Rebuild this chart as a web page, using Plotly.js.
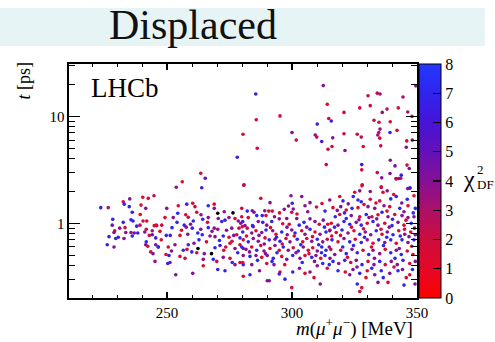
<!DOCTYPE html>
<html>
<head>
<meta charset="utf-8">
<script src="https://cdn.plot.ly/plotly-3.0.1.min.js"></script>
<style>html,body{margin:0;padding:0;background:#fff;}#plot{width:495px;height:342px;}</style>
</head>
<body>
<div id="plot"></div>
<script>
// dimuon mass [MeV]
const mass = [
223.5,226.5,232.5,235.1,232.9,234.9,240.3,242.5,244.8,239.6,241.5,236.1,239.3,228.3,228.1,232.5,235.6,236.4,240.4,241.9,
239.2,237.9,233.2,231.1,244.9,245.9,241.7,244.1,229.1,228.8,233.5,235.6,236.9,238.3,241.1,242.9,244.1,226.8,229.5,230.5,
232.8,236.1,245.5,241.7,241.5,242.3,246.5,226.1,228.8,243.5,244.4,245.2,
263.5,256.1,265.3,253.7,263.9,
249.9,254.5,257.9,260.3,261.2,266.5,268.9,268.9,272.9,279.9,249.2,252.5,254.3,257.5,258.5,260.5,261.9,263.6,264.3,266.5,
270.5,271.9,273.2,274.8,277.2,278.5,280.3,245.7,247.9,256.9,257.7,260.1,263.5,266.5,268.9,270.3,275.9,278.8,280.1,249.7,
251.3,255.2,258.3,262.3,264.1,267.2,269.2,272.5,274.8,276.7,279.2,277.9,245.5,246.5,250.5,253.2,258.5,260.8,258.0,256.5,
259.9,261.9,264.9,269.2,271.2,272.7,273.5,275.2,277.2,279.2,278.3,280.5,250.8,249.6,255.2,257.2,251.2,250.3,264.5,268.5,
269.9,272.5,275.2,276.1,277.2,279.2,280.5,270.3,273.2,264.5,253.5,260.3,
280.8,287.5,291.2,299.6,303.9,282.1,284.1,284.8,289.1,290.7,292.1,288.1,289.6,296.9,300.1,299.9,300.5,305.2,307.2,312.0,
313.2,279.9,282.5,279.5,281.2,284.5,286.5,288.3,289.9,291.9,294.9,296.3,297.9,298.9,301.9,302.9,304.8,307.2,309.2,310.9,
312.5,314.3,280.3,282.1,283.9,285.6,287.9,289.6,292.3,293.6,295.9,298.1,299.9,301.2,303.9,305.2,307.2,309.2,311.2,313.6,
315.2,280.5,282.5,284.5,286.5,289.2,290.9,293.2,295.2,297.6,299.2,302.1,304.3,305.9,307.9,310.1,312.3,314.1,279.9,281.6,
283.9,285.9,287.5,288.8,291.2,293.2,294.9,296.5,298.5,300.5,302.5,304.5,306.5,308.3,310.1,311.9,313.6,314.9,280.5,283.2,
285.6,287.9,290.1,292.5,295.9,297.9,300.3,303.2,305.2,307.9,309.6,311.5,313.2,315.2,280.3,283.9,289.9,292.8,295.2,294.9,
300.3,305.2,307.2,310.1,312.3,314.1,314.9,283.2,290.9,290.1,299.9,280.5,
328.1,341.7,343.5,347.1,325.1,327.1,331.3,335.7,336.4,338.1,319.1,320.4,326.4,327.7,331.3,335.1,339.5,341.7,346.1,348.8,
315.1,316.4,319.5,321.7,324.0,326.4,330.4,333.1,336.8,339.1,343.1,346.4,349.3,317.3,319.1,321.7,323.7,327.1,329.7,332.0,
334.4,336.0,338.4,341.1,344.0,346.4,348.8,315.7,318.4,320.8,323.1,325.7,327.7,330.1,332.4,334.4,337.1,340.0,342.4,344.8,
347.7,315.1,317.7,320.0,322.4,324.8,327.1,329.3,331.5,333.7,336.0,338.1,340.4,342.7,345.1,347.5,349.3,316.0,318.4,320.8,
323.1,325.3,327.7,330.1,332.4,334.7,337.1,339.5,341.7,344.0,346.4,348.8,315.5,317.1,319.5,321.7,324.0,326.1,328.4,330.7,
332.4,335.1,337.3,339.5,341.7,343.7,346.1,348.4,316.4,318.7,321.1,323.5,325.7,328.0,330.4,332.8,335.1,337.3,339.7,342.1,
344.4,347.1,349.3,318.4,321.3,324.4,327.1,330.1,333.1,335.7,339.1,342.4,347.1,323.1,326.1,334.4,338.4,345.7,327.1,
312.5,285.5,334.1,335.2,330.4,344.4,314.1,331.3,327.1,338.0,342.5,320.8,336.1,346.3,348.0,295.2,314.7,315.7,285.7,332.8,
334.8,339.3,310.1,335.2,342.0,339.2,280.4,300.0,309.3,309.9,320.8,326.1,327.7,334.3,334.7,335.1,348.1,345.9,301.7,311.9,
316.3,286.1,314.4,316.0,321.2,328.5,335.5,345.7,278.1,339.3,341.2,346.0,346.9,313.7,327.9,327.9,334.1,335.9,339.2,341.6,
342.7,343.7,280.7,328.0,335.7,347.2,346.3,349.5,327.9,344.8,349.2,
321.0,323.8,326.8,329.0,331.8,333.9,336.6,338.9,341.2,343.3,345.6,347.9,349.0,322.2,324.6,328.6,330.8,333.0,335.6,337.9,
340.2,342.9,345.0,346.8,319.4,317.0,320.3,326.0,329.6,331.9,336.5,340.8,344.2,348.2,338.0,344.8,333.6,322.5,318.1,328.8,
343.9,348.5,340.7,324.5,
281.8,284.2,286.8,288.9,291.4,293.8,296.1,298.0,300.9,303.5,305.9,308.2,310.7,313.0,315.9,283.0,286.2,289.4,292.0,294.0,
297.1,301.6,304.1,306.8,309.0,311.8,295.0,298.6,302.0,306.3,309.8,285.9,293.0,287.0,303.0,308.8,297.2,311.3,
247.2,252.0,255.8,259.4,262.8,265.8,268.0,271.0,273.8,276.0,254.0,247.7,251.8,266.2,276.4,270.3,262.4,267.8
];
// decay time [ps]
const time = [
1.40,1.40,1.59,1.69,1.51,1.43,1.75,1.71,1.81,1.48,1.38,1.27,1.21,1.09,0.96,1.02,1.08,1.05,1.05,1.05,
0.96,0.94,0.91,0.90,0.95,0.95,0.88,0.85,0.85,0.82,0.82,0.82,0.81,0.81,0.83,0.77,0.78,0.75,0.72,0.74,
0.72,0.76,0.73,0.67,0.63,0.61,0.60,0.63,0.60,0.54,0.52,0.44,
2.94,2.45,2.64,2.17,2.15,
1.38,1.46,1.51,1.54,1.43,1.46,1.51,1.38,1.28,1.38,1.13,1.13,1.24,1.20,1.14,1.05,1.27,1.20,1.09,1.13,
1.11,1.04,1.07,1.13,1.11,1.05,1.04,0.96,0.96,0.96,0.92,0.90,0.88,0.91,0.90,0.88,0.90,0.90,0.93,0.77,
0.77,0.77,0.79,0.81,0.78,0.76,0.75,0.76,0.74,0.77,0.73,0.78,0.63,0.60,0.60,0.63,0.63,0.65,0.57,0.56,
0.54,0.53,0.52,0.59,0.62,0.56,0.60,0.65,0.58,0.63,0.53,0.58,0.50,0.51,0.49,0.47,0.43,0.42,0.46,0.46,
0.44,0.48,0.47,0.43,0.41,0.43,0.41,0.37,0.36,0.40,0.33,0.34,
2.29,1.71,1.56,1.81,1.78,1.30,1.31,1.27,1.31,1.30,1.30,1.18,1.18,1.35,1.54,1.27,1.36,1.46,1.56,1.53,
1.30,1.15,1.13,1.00,0.95,0.93,1.04,1.02,0.96,1.04,1.10,0.99,1.11,0.98,1.11,0.96,1.02,1.10,1.04,0.98,
1.07,0.98,0.83,0.90,0.81,0.85,0.82,0.865,0.85,0.79,0.83,0.78,0.865,0.81,0.85,0.79,0.88,0.83,0.79,0.83,
0.865,0.70,0.67,0.72,0.68,0.73,0.70,0.71,0.68,0.72,0.67,0.71,0.67,0.72,0.68,0.71,0.67,0.71,0.60,0.57,
0.60,0.56,0.62,0.55,0.58,0.62,0.56,0.60,0.56,0.59,0.55,0.60,0.56,0.59,0.55,0.60,0.56,0.60,0.50,0.49,
0.50,0.48,0.50,0.47,0.49,0.46,0.50,0.47,0.50,0.48,0.50,0.47,0.50,0.47,0.43,0.41,0.42,0.41,0.35,0.335,
0.35,0.34,0.35,0.40,0.42,0.38,0.41,0.33,0.29,0.29,0.25,0.32,
2.29,2.60,2.64,2.13,1.95,2.01,1.98,2.16,1.95,2.01,1.78,1.62,1.65,1.59,1.68,1.62,1.69,1.78,1.68,1.81,
1.65,1.40,1.43,1.33,1.38,1.40,1.43,1.38,1.46,1.43,1.38,1.46,1.38,1.15,1.21,1.11,1.18,1.15,1.21,1.15,
1.20,1.27,1.15,1.21,1.18,1.13,1.15,1.00,0.96,1.04,0.98,1.02,0.96,1.00,1.04,0.96,1.00,0.95,1.02,0.96,
1.00,0.85,0.82,0.865,0.81,0.85,0.79,0.83,0.78,0.85,0.79,0.83,0.78,0.85,0.79,0.83,0.78,0.70,0.67,0.72,
0.67,0.71,0.66,0.70,0.65,0.70,0.66,0.70,0.65,0.70,0.66,0.70,0.57,0.51,0.56,0.52,0.57,0.53,0.56,0.51,
0.56,0.52,0.57,0.53,0.56,0.51,0.55,0.51,0.44,0.42,0.45,0.43,0.45,0.41,0.44,0.41,0.44,0.41,0.44,0.41,
0.45,0.42,0.44,0.36,0.35,0.37,0.34,0.36,0.33,0.36,0.34,0.36,0.33,0.33,0.27,0.28,0.28,0.31,0.23,
19.4,16.2,16.5,16.2,15.6,15.2,13.0,12.6,12.0,11.7,12.0,10.9,10.9,11.0,10.0,10.1,9.55,9.04,9.3,9.2,
8.8,8.9,8.47,7.6,7.4,7.07,6.8,7.07,6.7,6.4,6.87,6.8,6.4,6.7,7.07,6.26,6.0,5.9,6.0,5.82,
6.3,5.04,4.93,5.22,4.79,5.22,5.3,5.15,4.15,3.89,3.44,3.5,3.25,3.54,3.54,3.16,2.98,2.66,2.92,2.62,
2.62,2.82,2.27,2.25,2.19,2.15,2.11,19.3,0.25,0.264,0.27,
1.25,0.92,1.08,0.74,0.60,1.10,0.62,0.92,0.47,0.76,1.07,0.61,0.90,0.48,0.62,0.89,1.13,0.47,0.88,0.74,
1.09,0.58,0.88,0.75,0.77,0.92,0.60,0.39,0.31,0.38,0.31,0.39,0.37,0.37,1.30,1.28,1.55,1.52,1.32,1.50,
1.55,1.25,1.86,1.78,
0.76,0.95,0.77,0.64,0.91,0.74,0.64,0.92,0.76,0.63,0.92,0.75,0.63,0.92,0.76,0.54,0.45,0.52,0.44,0.53,
0.41,0.53,0.43,0.52,0.44,0.53,1.25,1.45,1.22,1.28,1.42,1.18,1.15,0.36,0.38,0.31,0.30,0.27,
0.84,0.91,0.86,0.98,0.70,0.67,0.84,0.69,0.86,0.68,1.02,0.70,0.55,1.02,1.25,1.24,0.58,0.52
];
// fit chi2 per degree of freedom
const chi2 = [
7,3,1.5,4,7,7,1,1.5,2.5,1.5,4,6.5,1,7,4.5,7,7,6.5,1.5,1,
2,6.5,2,4,1.5,2,1.5,3.5,2.5,4,4,3.5,4.5,6.5,4,1.5,6,7,7,6.5,
4,6.5,6.5,7,4,2,6.5,6.5,4,2,4,3.5,
1.5,1.5,5,4,6.5,
4,1.5,7,1.5,2,7,1.5,4,4,1.5,1.5,4,7,1.5,2,7,1.5,4,7,4,
4,7,6.5,4,1.5,4,7,1.5,2,7,4,7,4,7,4,3.5,4,1.5,1.5,7,
6.5,1.5,4,7,7,4,4,7,1.5,4,7,1.5,4,7,1.5,4,7,4,1.5,7,
7,1.5,4,7,6.5,1.5,2,1.5,4,1.5,7,4,7,1.5,1.5,2,4,7,4,7,
1.5,4,1.5,7,4,1.5,7,7,6.5,1.5,4,4,
4,1.5,4,4,4,7,4,4,4,1.5,2,7,1.5,4,7,1.5,4,4,4,1.5,
7,1.5,1.5,4,4,4,4,7,4,7,4,1.5,4,1.5,4,7,7,4,4,1.5,
4,1.5,7,1.5,4,1.5,4,7,4,1.5,7,4,4,7,1.5,4,7,1.5,4,7,
1.5,1.5,7,4,4,1.5,7,4,7,1.5,4,7,1.5,1.5,4,7,4,1.5,7,4,
1.5,7,1.5,4,1.5,4,1.5,7,4,1.5,7,4,1.5,1.5,4,7,7,4,4,7,
4,1.5,4,7,1.5,4,7,4,1.5,7,4,1.5,7,4,1.5,4,1.5,4,1.5,7,
7,1.5,4,4,7,1.5,7,7,4,4,1.5,
1.5,1.5,1.5,2,4,1.5,4,4,4,1.5,4,1.5,7,7,7,1.5,1.5,7,7,7,
1.5,4,1.5,4,1.5,7,1.5,4,4,4,1.5,7,1.5,7,7,1.5,7,4,1.5,7,
1.5,1.5,7,4,1.5,4,4,4,1.5,4,7,7,4,7,1.5,7,4,1.5,7,4,
1.5,7,4,1.5,7,4,1.5,7,4,4,7,1.5,4,7,1.5,4,1.5,4,7,1.5,
4,7,1.5,7,4,1.5,7,4,7,1.5,7,4,7,1.5,4,1.5,7,4,7,1.5,
7,4,4,1.5,7,4,7,1.5,1.5,7,4,7,1.5,4,7,1.5,4,7,1.5,4,
4,7,1.5,4,7,1.5,4,7,1.5,4,7,4,7,1.5,4,7,
4,1.5,2,2,4,6,2,3.5,2,3,1.5,2,2,3,1.5,2,3.5,3,1,2,
1.5,6.5,2,2,1.5,1.5,6.5,4,2,6.5,1.5,4.5,4,2,2,2,3,3.5,1.5,2,
3.5,1.5,2,6.5,3.5,2,2,2,4,1.5,2,4,6.5,4,4.5,2,4,2,6,2,
2,4,4,2,4,6.5,2,1.5,1.5,7,4,
4,1.5,7,4,7,1.5,4,7,1.5,4,7,4,7,7,1.5,1.5,4,1.5,7,1.5,
4,4,1.5,7,7,4,1.5,4,1.5,7,7,4,1.5,7,7,1.5,4,7,1.5,4,
1.5,4,4,1.5,
4,7,1.5,7,1.5,7,4,4,1.5,7,1.5,4,1.5,7,4,1.5,7,7,1.5,4,
7,4,7,7,1.5,4,7,1.5,4,7,1.5,4,1.5,4,1.5,7,4,4,
4,1.5,7,4,1.5,7,1.5,4,7,1.5,4,7,4,1.5,7,1.5,4,1.5
];
const xTicks = [250, 300, 350];
const yTicks = [1, 10];
const yTickText = ['1', '10'];
const yMinor = [0.2,0.3,0.4,0.5,0.6,0.7,0.8,0.9,2,3,4,5,6,7,8,9,20,30];
const cTicks = [0,1,2,3,4,5,6,7,8];

const serif = 'Liberation Serif, Times New Roman, serif';
const trace = {
  type: 'scatter', mode: 'markers', x: mass, y: time,
  marker: {
    size: 3.6, color: chi2, cmin: 0, cmax: 8,
    colorscale: [[0,'rgb(255,0,0)'],[0.125,'rgb(228,8,40)'],[0.25,'rgb(205,12,62)'],[0.375,'rgb(172,16,105)'],
                 [0.5,'rgb(135,16,150)'],[0.625,'rgb(100,16,185)'],[0.75,'rgb(70,20,215)'],[0.875,'rgb(48,36,238)'],[1,'rgb(36,56,255)']],
    showscale: true,
    colorbar: {
      x: 1.006, xanchor: 'left', y: 0.5, yanchor: 'middle', len: 1, lenmode: 'fraction',
      thickness: 22, thicknessmode: 'pixels', xpad: 0, ypad: 0,
      outlinewidth: 1, outlinecolor: '#000',
      tickmode: 'array', tickvals: cTicks, ticks: 'inside', ticklen: 8, tickwidth: 1.3, tickcolor: '#000',
      tickfont: {family: serif, size: 16, color: '#000'}
    }
  },
  hoverinfo: 'skip'
};
const layout = {
  width: 495, height: 342,
  margin: {l: 69, r: 78, t: 64, b: 44},
  paper_bgcolor: '#fff', plot_bgcolor: '#fff',
  showlegend: false,
  xaxis: {
    range: [210.8, 350], tickmode: 'array', tickvals: xTicks,
    ticks: 'inside', ticklen: 6, tickwidth: 1.3, tickcolor: '#000',
    minor: {dtick: 10, ticks: 'inside', ticklen: 3, tickwidth: 1, tickcolor: '#000', showgrid: false},
    mirror: 'allticks', showline: true, linewidth: 1.6, linecolor: '#000',
    showgrid: false, zeroline: false,
    tickfont: {family: serif, size: 15, color: '#000'}
  },
  yaxis: {
    type: 'log', range: [-0.699, 1.49], tickmode: 'array', tickvals: yTicks, ticktext: yTickText,
    ticks: 'inside', ticklen: 11, tickwidth: 1.3, tickcolor: '#000',
    minor: {tickmode: 'array', tickvals: yMinor, ticks: 'inside', ticklen: 6, tickwidth: 1, tickcolor: '#000', showgrid: false},
    mirror: 'allticks', showline: true, linewidth: 1.6, linecolor: '#000',
    showgrid: false, zeroline: false,
    tickfont: {family: serif, size: 15, color: '#000'}
  },
  shapes: [{
    type: 'rect', xref: 'paper', yref: 'paper', x0: -0.2, x1: 1.195, y0: 1.077, y1: 1.239,
    fillcolor: 'rgb(230,244,246)', line: {width: 0}, layer: 'below'
  }],
  annotations: [
    {text: 'Displaced', xref: 'paper', yref: 'paper', x: 0.109, y: 1.165, xanchor: 'left', yanchor: 'middle',
     showarrow: false, font: {family: serif, size: 42, color: '#111'}},
    {text: 'LHCb', xref: 'paper', yref: 'paper', x: 0.058, y: 0.897, xanchor: 'left', yanchor: 'middle',
     showarrow: false, font: {family: serif, size: 27, color: '#000'}},
    {text: '<i>t</i> [ps]', xref: 'paper', yref: 'paper', x: -0.129, y: 0.93, xanchor: 'center', yanchor: 'middle',
     textangle: -90, showarrow: false, font: {family: serif, size: 18, color: '#000'}},
    {text: '<i>m</i>(<i>μ</i><sup>+</sup><i>μ</i><sup>−</sup>) [MeV]', xref: 'paper', yref: 'paper', x: 0.994, y: -0.124,
     xanchor: 'right', yanchor: 'middle', showarrow: false, font: {family: serif, size: 19, color: '#000'}},
    {text: 'χ', xref: 'paper', yref: 'paper', x: 1.127, y: 0.510, xanchor: 'left', yanchor: 'middle',
     showarrow: false, font: {family: serif, size: 24, color: '#000'}},
    {text: '2', xref: 'paper', yref: 'paper', x: 1.168, y: 0.548, xanchor: 'left', yanchor: 'middle',
     showarrow: false, font: {family: serif, size: 13, color: '#000'}},
    {text: 'DF', xref: 'paper', yref: 'paper', x: 1.168, y: 0.485, xanchor: 'left', yanchor: 'middle',
     showarrow: false, font: {family: serif, size: 13, color: '#000'}}
  ]
};
Plotly.newPlot('plot', [trace], layout, {staticPlot: true, displayModeBar: false});
</script>
</body>
</html>
